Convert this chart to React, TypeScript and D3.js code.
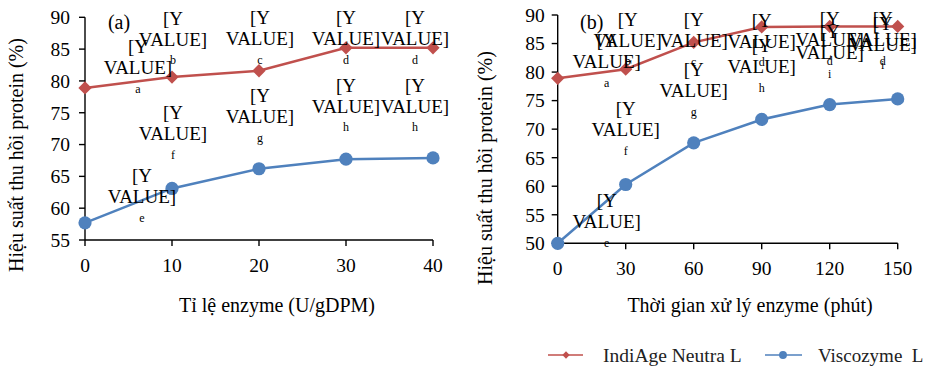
import React from "react";
import * as d3 from "d3";

// Panel (a): enzyme ratio
const enzymeRatio = [0, 10, 20, 30, 40];
const indiAgeByRatio = [78.9, 80.6, 81.6, 85.2, 85.2];
const viscozymeByRatio = [57.7, 63.1, 66.2, 67.7, 67.9];
const indiAgeRatioLetters = ["a", "b", "c", "d", "d"];
const viscozymeRatioLetters = ["e", "f", "g", "h", "h"];
const ratioXTicks = [0, 10, 20, 30, 40];
const ratioYTicks = [55, 60, 65, 70, 75, 80, 85, 90];

// Panel (b): treatment time
const treatTime = [0, 30, 60, 90, 120, 150];
const indiAgeByTime = [78.9, 80.5, 85.2, 87.9, 88.0, 88.0];
const viscozymeByTime = [50.0, 60.3, 67.6, 71.7, 74.3, 75.3];
const indiAgeTimeLetters = ["a", "b", "c", "d", "d", "d"];
const viscozymeTimeLetters = ["e", "f", "g", "h", "i", "i"];
const timeXTicks = [0, 30, 60, 90, 120, 150];
const timeYTicks = [50, 55, 60, 65, 70, 75, 80, 85, 90];

const seriesNames = ["IndiAge Neutra L", "Viscozyme  L"];
const yTitle = "Hiệu suất thu hồi protein (%)";

// Label placement (pixel offsets of the letter line from each point)
const ratioRedOffsets = [[53, 0.5], [1, -17], [1, -11], [0, 12], [-18, 12]];
const ratioBlueOffsets = [[57, -5], [1, -34], [1, -31], [0, -32], [-18, -31]];
const timeRedOffsets = [[49, 4], [2, -8], [0, 19], [0, 35], [0, 34], [-15, 34]];
const timeBlueOffsets = [[49, -1], [0, -34], [0, -31], [0, -32], [0, -31], [-15, -34]];

const RED = "#C0504D";
const BLUE = "#4F81BD";
const FONT = "'Liberation Serif', 'Times New Roman', serif";

type Series = { y: number[]; letters: string[]; offsets: number[][]; color: string; marker: "diamond" | "circle" };

type PanelProps = {
  tag: string;
  xs: number[];
  xDomain: [number, number];
  yDomain: [number, number];
  xTicks: number[];
  yTicks: number[];
  left: number;
  right: number;
  top: number;
  bottom: number;
  yLabelGap: number;
  xTitle: string;
  xTitleX: number;
  yTitleX: number;
  yTitleY: number;
  xTickY: number;
  series: Series[];
};

const diamondPath = d3.symbol().type(d3.symbolSquare).size(88)() as string;

function Marker({ kind, x, y, color, scale = 1 }: { kind: string; x: number; y: number; color: string; scale?: number }) {
  if (kind === "diamond") {
    return <path d={diamondPath} transform={`translate(${x},${y}) rotate(45) scale(${scale})`} fill={color} />;
  }
  return <circle cx={x} cy={y} r={6.6 * scale} fill={color} />;
}

function Panel(p: PanelProps) {
  const x = d3.scaleLinear().domain(p.xDomain).range([p.left, p.right]);
  const y = d3.scaleLinear().domain(p.yDomain).range([p.bottom, p.top]);
  const line = d3.line<number>().x((_, i) => x(p.xs[i])).y((v) => y(v));
  return (
    <g fontFamily={FONT}>
      {/* axes */}
      <line x1={p.left} x2={p.left} y1={p.top} y2={p.bottom} stroke="#000" strokeWidth={1.4} />
      <line x1={p.left} x2={p.right} y1={p.bottom} y2={p.bottom} stroke="#000" strokeWidth={1.4} />
      {p.yTicks.map((t) => (
        <g key={"y" + t}>
          <line x1={p.left - 6} x2={p.left} y1={y(t)} y2={y(t)} stroke="#000" strokeWidth={1.4} />
          <text x={p.left - p.yLabelGap} y={y(t)} dy="0.35em" textAnchor="end" fontSize={19.5} fill="#000">
            {t}
          </text>
        </g>
      ))}
      {p.xTicks.map((t) => (
        <g key={"x" + t}>
          <line x1={x(t)} x2={x(t)} y1={p.bottom} y2={p.bottom + 6} stroke="#000" strokeWidth={1.4} />
          <text x={x(t)} y={p.xTickY} dy="0.35em" textAnchor="middle" fontSize={19.5} fill="#000">
            {t}
          </text>
        </g>
      ))}
      <text x={p.xTitleX} y={305} dy="0.35em" textAnchor="middle" fontSize={20} fill="#000">
        {p.xTitle}
      </text>
      <text
        transform={`translate(${p.yTitleX},${p.yTitleY}) rotate(-90)`}
        dy="0.35em"
        textAnchor="middle"
        fontSize={20}
        fill="#000"
      >
        {yTitle}
      </text>
      <text x={p.left + 34} y={22} dy="0.35em" textAnchor="middle" fontSize={20} fill="#000">
        {p.tag}
      </text>
      {/* series */}
      {p.series.map((s, si) => (
        <g key={"s" + si}>
          <path d={line(s.y) as string} fill="none" stroke={s.color} strokeWidth={2.5} />
          {s.y.map((v, i) => (
            <Marker key={i} kind={s.marker} x={x(p.xs[i])} y={y(v)} color={s.color} />
          ))}
        </g>
      ))}
      {/* data labels */}
      {p.series.map((s, si) => (
        <g key={"l" + si} fill="#000">
          {s.y.map((v, i) => {
            const cx = x(p.xs[i]) + s.offsets[i][0];
            const ly = y(v) + s.offsets[i][1];
            return (
              <g key={i}>
                <text x={cx} y={ly - 42} dy="0.35em" textAnchor="middle" fontSize={19}>
                  [Y
                </text>
                <text x={cx} y={ly - 21} dy="0.35em" textAnchor="middle" fontSize={19}>
                  VALUE]
                </text>
                <text x={cx} y={ly} dy="0.35em" textAnchor="middle" fontSize={12}>
                  {s.letters[i]}
                </text>
              </g>
            );
          })}
        </g>
      ))}
    </g>
  );
}

export default function App() {
  return (
    <svg
      width={925}
      height={367}
      viewBox="0 0 925 367"
      style={{ position: "absolute", left: 0, top: 0, background: "#fff" }}
    >
      <rect width={925} height={367} fill="#fff" />
      <Panel
        tag="(a)"
        xs={enzymeRatio}
        xDomain={[0, 40]}
        yDomain={[55, 90]}
        xTicks={ratioXTicks}
        yTicks={ratioYTicks}
        left={85}
        right={433}
        top={17.3}
        bottom={240}
        yLabelGap={15}
        xTitle="Tỉ lệ enzyme (U/gDPM)"
        xTitleX={277}
        yTitleX={16}
        yTitleY={155}
        xTickY={265}
        series={[
          { y: indiAgeByRatio, letters: indiAgeRatioLetters, offsets: ratioRedOffsets, color: RED, marker: "diamond" },
          { y: viscozymeByRatio, letters: viscozymeRatioLetters, offsets: ratioBlueOffsets, color: BLUE, marker: "circle" },
        ]}
      />
      <Panel
        tag="(b)"
        xs={treatTime}
        xDomain={[0, 150]}
        yDomain={[50, 90]}
        xTicks={timeXTicks}
        yTicks={timeYTicks}
        left={557.7}
        right={897.7}
        top={15}
        bottom={243.3}
        yLabelGap={13}
        xTitle="Thời gian xử lý enzyme (phút)"
        xTitleX={750}
        yTitleX={485}
        yTitleY={168}
        xTickY={268}
        series={[
          { y: indiAgeByTime, letters: indiAgeTimeLetters, offsets: timeRedOffsets, color: RED, marker: "diamond" },
          { y: viscozymeByTime, letters: viscozymeTimeLetters, offsets: timeBlueOffsets, color: BLUE, marker: "circle" },
        ]}
      />
      {/* legend */}
      <g fontFamily={FONT} fontSize={19.5} fill="#222">
        <line x1={548} x2={583} y1={355} y2={355} stroke={RED} strokeWidth={1.5} />
        <Marker kind="diamond" x={566} y={355} color={RED} scale={0.55} />
        <text x={603} y={355} dy="0.35em">{seriesNames[0]}</text>
        <line x1={765} x2={802} y1={355} y2={355} stroke={BLUE} strokeWidth={1.5} />
        <Marker kind="circle" x={783} y={355} color={BLUE} scale={0.6} />
        <text x={818} y={355} dy="0.35em" fontSize={19} style={{ whiteSpace: "pre" }}>{seriesNames[1]}</text>
      </g>
    </svg>
  );
}
